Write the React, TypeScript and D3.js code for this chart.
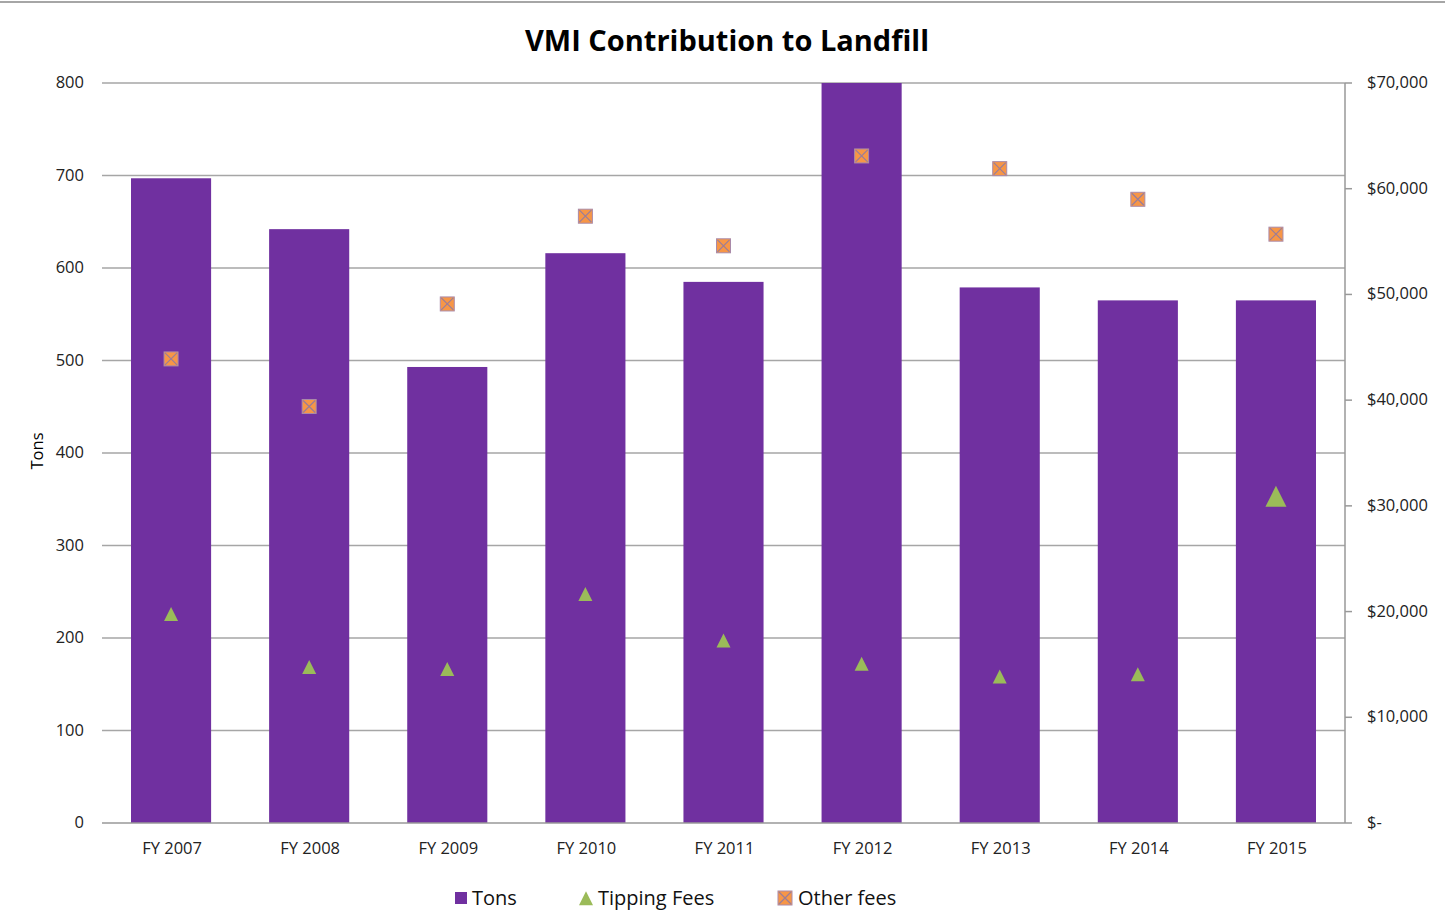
import React from "react";
import * as d3 from "d3";

const categories = ["FY 2007", "FY 2008", "FY 2009", "FY 2010", "FY 2011", "FY 2012", "FY 2013", "FY 2014", "FY 2015"];
const tons = [697, 642, 493, 616, 585, 800, 579, 565, 565];
const tippingFees = [19700, 14700, 14500, 21600, 17200, 15000, 13800, 14000, 30800];
const otherFees = [43900, 39400, 49100, 57400, 54600, 63100, 61900, 59000, 55700];
const leftTicks = [0, 100, 200, 300, 400, 500, 600, 700, 800];
const rightTicks = [0, 10000, 20000, 30000, 40000, 50000, 60000, 70000];

const W = 1445, H = 916;
const left = 102, right = 1345, top = 83, bottom = 823;
const font = "'Open Sans', 'Noto Sans', sans-serif";

export default function App() {
  const x = d3.scaleBand<string>().domain(categories).range([left, right]).paddingInner(0.42).paddingOuter(0.21);
  const yL = d3.scaleLinear().domain([0, 800]).range([bottom, top]);
  const yR = d3.scaleLinear().domain([0, 70000]).range([bottom, top]);
  const fmt = (v: number) => (v === 0 ? "$-" : "$" + d3.format(",")(v));
  const tri = (cx: number, cy: number, s: number) =>
    `M${cx},${cy - s * 0.55} L${cx + s / 2},${cy + s * 0.45} L${cx - s / 2},${cy + s * 0.45} Z`;
  const xMark = (cx: number, cy: number, s: number, key: string) => (
    <g key={key}>
      <rect x={cx - s / 2} y={cy - s / 2} width={s} height={s} fill="#F79646" stroke="#a98aa9" strokeWidth={1} />
      <path d={`M${cx - s / 2 + 1},${cy - s / 2 + 1} L${cx + s / 2 - 1},${cy + s / 2 - 1} M${cx + s / 2 - 1},${cy - s / 2 + 1} L${cx - s / 2 + 1},${cy + s / 2 - 1}`} stroke="#9a7d9a" strokeWidth={1.2} />
    </g>
  );
  const fs = 16.5;
  return (
    <svg width={W} height={H} style={{ position: "absolute", left: 0, top: 0, background: "#fff" }} fontFamily={font}>
      <line x1={0} x2={W} y1={2} y2={2} stroke="#888" strokeWidth={1.5} />
      <text x={727} y={51} textAnchor="middle" fontSize={29} fontWeight="bold" fill="#000">VMI Contribution to Landfill</text>
      {leftTicks.map((t) => (
        <g key={"g" + t}>
          {t > 0 && <line x1={left} x2={right} y1={yL(t)} y2={yL(t)} stroke="#a6a6a6" strokeWidth={1.5} />}
          <text x={84} y={yL(t) + 5} textAnchor="end" fontSize={fs} fill="#222">{t}</text>
        </g>
      ))}
      {categories.map((c, i) => (
        <rect key={"b" + c} x={x(c)!} y={yL(tons[i])} width={x.bandwidth()} height={bottom - yL(tons[i])} fill="#7030A0" />
      ))}
      <line x1={left} x2={right} y1={bottom} y2={bottom} stroke="#999" strokeWidth={1.5} />
      <line x1={right} x2={right} y1={top} y2={bottom} stroke="#999" strokeWidth={1.5} />
      {rightTicks.map((t) => (
        <g key={"r" + t}>
          <line x1={right} x2={right + 7} y1={yR(t)} y2={yR(t)} stroke="#999" strokeWidth={1.5} />
          <text x={1367} y={yR(t) + 5} fontSize={fs} fill="#222">{fmt(t)}</text>
        </g>
      ))}
      {categories.map((c, i) => (
        <text key={"x" + c} x={x(c)! + x.bandwidth() / 2 + 1} y={854} textAnchor="middle" fontSize={fs} fill="#222">{c}</text>
      ))}
      {categories.map((c, i) => {
        const cx = x(c)! + x.bandwidth() / 2;
        const s = i === 8 ? 21 : 14;
        return <path key={"t" + c} d={tri(cx, yR(tippingFees[i]), s)} fill="#9BBB59" />;
      })}
      {categories.map((c, i) => xMark(x(c)! + x.bandwidth() / 2, yR(otherFees[i]), 14, "o" + c))}
      <text transform={`translate(43,451) rotate(-90)`} textAnchor="middle" fontSize={fs} fill="#000">Tons</text>
      <g>
        <rect x={455} y={892} width={12} height={12} fill="#7030A0" />
        <text x={472} y={905} fontSize={20} fill="#111">Tons</text>
        <path d={tri(586, 899, 14)} fill="#9BBB59" />
        <text x={598} y={905} fontSize={20} fill="#111">Tipping Fees</text>
        {xMark(785, 898, 14, "legX")}
        <text x={798} y={905} fontSize={20} fill="#111">Other fees</text>
      </g>
    </svg>
  );
}
